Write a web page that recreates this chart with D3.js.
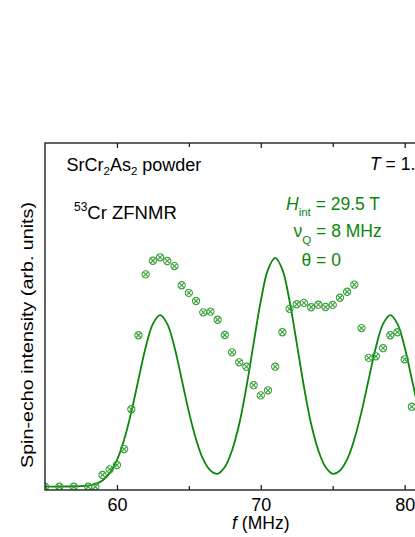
<!DOCTYPE html>
<html><head><meta charset="utf-8">
<script src="https://cdn.jsdelivr.net/npm/d3@7"></script>
<style>html,body{margin:0;padding:0;background:#fff;overflow:hidden}</style>
</head><body>
<script>
// Measured spin-echo data (frequency in MHz, intensity in arb. units)
const dataFreq = [55,56,57,58,58.5,59,59.5,60,60.5,61,61.5,62,62.5,63,63.5,64,64.5,65,65.5,66,66.5,67,67.5,68,68.5,69,69.5,70,70.5,71,71.5,72,72.5,73,73.5,74,74.5,75,75.5,76,76.5,77,77.5,78,78.5,79,79.5,80,80.5];
const dataInt  = [1.4,1.4,1.4,1.4,1.4,6.5,8.9,10.8,17.7,34.9,66.9,93.2,99.1,100.6,99.0,96.8,88.5,85.2,81.7,76.8,77.1,73.6,67.0,59.5,55.2,53.3,45.3,40.9,43.1,53.3,68.2,78.3,80.3,80.9,79.0,80.1,79.1,80.0,83.1,85.7,88.8,70.0,57.1,57.8,61.3,66.9,68.2,56.5,36.0];
// Simulated spectrum
const simFreq = [55,55.5,56,56.5,57,57.5,58,58.5,59,59.5,60,60.5,61,61.5,62,62.5,63,63.5,64,64.5,65,65.5,66,66.5,67,67.5,68,68.5,69,69.5,70,70.5,71,71.5,72,72.5,73,73.5,74,74.5,75,75.5,76,76.5,77,77.5,78,78.5,79,79.5,80,80.5,81,81.5,82];
const simInt  = [1.5,1.5,1.5,1.51,1.54,1.64,1.91,2.6,4.15,7.3,12.9,21.7,33.7,47.9,61.7,71.8,75.6,71.8,61.7,47.9,33.8,21.9,13.2,8.4,7.0,9.9,17.1,28.5,44.5,63.4,81.7,95.3,100.3,95.3,81.7,63.4,44.6,28.5,17.1,9.9,7.0,8.4,13.2,21.9,33.8,47.9,61.7,71.8,75.6,71.8,61.7,47.9,33.7,21.7,12.9];
const xMajorTicks = [60,70,80];
const xMinorTicks = [65,75,85];
const xTickLabels = ["60","70","80"];

const W = 415, H = 537;
const svg = d3.select("body").append("svg").attr("width", W).attr("height", H)
  .style("font-family", "'Liberation Sans', Arial, Helvetica, sans-serif");

const pL = 45, pT = 143, pB = 490;
const x = d3.scaleLinear().domain([55, 85]).range([pL, pL + 431.6]);
const y = d3.scaleLinear().domain([0, 150]).range([pB, pT]);
const pR = x(85);

svg.append("defs").append("clipPath").attr("id", "plotclip")
  .append("rect").attr("x", pL).attr("y", pT).attr("width", pR - pL).attr("height", pB - pT);

const frameColor = "#222";
const green = "#0b870b";
const markGreen = "#36a036";

// curve
const plot = svg.append("g").attr("clip-path", "url(#plotclip)");
const line = d3.line().x((d, i) => x(simFreq[i])).y((d, i) => y(simInt[i])).curve(d3.curveCatmullRom.alpha(0.5));
plot.append("path").datum(simInt).attr("d", line)
  .attr("fill", "none").attr("stroke", green).attr("stroke-width", 1.8);

// data markers
const mk = plot.selectAll("g.mk").data(dataFreq).enter().append("g")
  .attr("transform", (d, i) => `translate(${x(d)},${y(dataInt[i])})`)
  .attr("stroke", markGreen).attr("stroke-width", 1.1).attr("fill", "none");
mk.append("circle").attr("r", 3.6);
mk.append("path").attr("d", "M-2.5,-2.5L2.5,2.5M-2.5,2.5L2.5,-2.5");

// frame
svg.append("rect").attr("x", pL).attr("y", pT).attr("width", pR - pL).attr("height", pB - pT)
  .attr("fill", "none").attr("stroke", frameColor).attr("stroke-width", 1.4);

// axes ticks (inward), bottom and top
const axB = d3.axisBottom(x).tickValues(xMajorTicks).tickSizeInner(-5).tickSizeOuter(0).tickFormat((d, i) => xTickLabels[i]).tickPadding(8);
const gB = svg.append("g").attr("transform", `translate(0,${pB})`).call(axB);
gB.select(".domain").remove();
gB.selectAll(".tick line").attr("stroke", frameColor).attr("stroke-width", 1.3);
gB.selectAll(".tick text").attr("font-size", 18).attr("fill", "#000").attr("font-family", "'Liberation Sans', Arial, sans-serif");
const axBm = d3.axisBottom(x).tickValues(xMinorTicks).tickSizeInner(-4).tickSizeOuter(0).tickFormat("");
const gBm = svg.append("g").attr("transform", `translate(0,${pB})`).call(axBm);
gBm.select(".domain").remove();
gBm.selectAll(".tick line").attr("stroke", frameColor).attr("stroke-width", 1.3);

const axT = d3.axisTop(x).tickValues(xMajorTicks).tickSizeInner(-5).tickSizeOuter(0).tickFormat("");
const gT = svg.append("g").attr("transform", `translate(0,${pT})`).call(axT);
gT.select(".domain").remove();
gT.selectAll(".tick line").attr("stroke", frameColor).attr("stroke-width", 1.3);
const axTm = d3.axisTop(x).tickValues(xMinorTicks).tickSizeInner(-4).tickSizeOuter(0).tickFormat("");
const gTm = svg.append("g").attr("transform", `translate(0,${pT})`).call(axTm);
gTm.select(".domain").remove();
gTm.selectAll(".tick line").attr("stroke", frameColor).attr("stroke-width", 1.3);

// axis labels
const xl = svg.append("text").attr("x", (pL + pR) / 2).attr("y", 529).attr("text-anchor", "middle").attr("font-size", 17.5);
xl.append("tspan").attr("font-style", "italic").text("f");
xl.append("tspan").text(" (MHz)");

svg.append("text").attr("transform", "translate(33,335) rotate(-90)").attr("text-anchor", "middle")
  .attr("font-size", 17).attr("textLength", 266).attr("lengthAdjust", "spacingAndGlyphs")
  .text("Spin-echo intensity (arb. units)");

// annotations
const t1 = svg.append("text").attr("x", 66.5).attr("y", 170.5).attr("font-size", 18);
t1.append("tspan").text("SrCr");
t1.append("tspan").attr("font-size", 11.5).attr("dy", 4).text("2");
t1.append("tspan").attr("dy", -4).text("As");
t1.append("tspan").attr("font-size", 11.5).attr("dy", 4).text("2");
t1.append("tspan").attr("dy", -4).text(" powder");

const t2 = svg.append("text").attr("x", 74).attr("y", 218.5).attr("font-size", 18.5);
t2.append("tspan").attr("font-size", 12).attr("dy", -8).text("53");
t2.append("tspan").attr("dy", 8).text("Cr ZFNMR");

const t3 = svg.append("text").attr("x", 370).attr("y", 170).attr("font-size", 17.5);
t3.append("tspan").attr("font-style", "italic").text("T");
t3.append("tspan").text(" = 1.6 K");

const g1 = svg.append("text").attr("x", 286).attr("y", 209.5).attr("font-size", 17.5).attr("fill", green);
g1.append("tspan").attr("font-style", "italic").text("H");
g1.append("tspan").attr("font-size", 11.5).attr("dy", 6).text("int");
g1.append("tspan").attr("dy", -6).text(" = 29.5 T");

const g2 = svg.append("text").attr("x", 293.5).attr("y", 237).attr("font-size", 17.5).attr("fill", green);
g2.append("tspan").text("ν");
g2.append("tspan").attr("font-size", 11.5).attr("dy", 6.5).text("Q");
g2.append("tspan").attr("dy", -6.5).text(" = 8 MHz");

svg.append("text").attr("x", 301.5).attr("y", 266).attr("font-size", 17.5).attr("fill", green).text("θ = 0");
</script>
</body></html>
